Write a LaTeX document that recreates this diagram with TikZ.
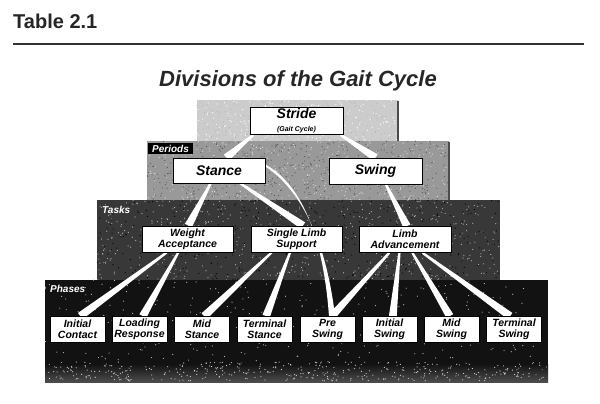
\documentclass[tikz,border=0pt]{standalone}
\usepackage{fontspec}
\setmainfont{Liberation Sans}
\usetikzlibrary{calc}
\pgfdeclarelayer{back}
\pgfdeclarelayer{mid}
\pgfsetlayers{back,mid,main}
\definecolor{strideg}{gray}{0.80}
\definecolor{periodg}{gray}{0.60}
\definecolor{taskg}{gray}{0.22}
\definecolor{phaseg}{gray}{0.07}
% tapered white connector from parent (bottom, fraction) to child (top, fraction)
\newcommand\taper[4]{%
  \coordinate (tp) at ($(#1.south west)!#2!(#1.south east)$);
  \coordinate (tq) at ($(#3.north west)!#4!(#3.north east)$);
  \fill[wedgefill] ($(tp)!1.1pt!90:(tq)$) -- ($(tp)!1.1pt!-90:(tq)$)
     -- ($(tq)!3.9pt!90:(tp)$) -- ($(tq)!3.9pt!-90:(tp)$) -- cycle;}
% scanned-print grain: #1..#4 region, #5 count, #6 colour
\newcommand\grain[6]{%
  \foreach \gi in {1,...,#5}{%
    \pgfmathsetmacro\gx{#1+rnd*(#3-#1)}%
    \pgfmathsetmacro\gy{#2+rnd*(#4-#2)}%
    \fill[#6] (\gx,\gy) circle[radius=0.6pt];}}
\begin{document}
\begin{tikzpicture}[x=1pt,y=-1pt,
  wedgefill/.style={fill=white},
  box/.style={draw=black,line width=0.8pt,fill=white,inner sep=1pt,align=center,
    font=\fontsize{10.5}{11}\selectfont\bfseries\itshape},
  bigbox/.style={box,font=\fontsize{14}{15}\selectfont\bfseries\itshape},
  taskbox/.style={box,minimum width=91pt,minimum height=26pt},
  phasebox/.style={box,minimum width=55pt,minimum height=26pt},
  tierlabel/.style={text=white,inner sep=1pt,font=\fontsize{10}{11}\selectfont\bfseries\itshape}]
\useasboundingbox (0,0) rectangle (600,404);
\pgfmathsetseed{7}

% stepped background blocks
\begin{pgfonlayer}{back}
  \fill[white] (0,0) rectangle (600,404);
  \fill[strideg] (197,100) rectangle (398,142);
  \grain{197}{100}{397}{141}{260}{gray!55}
  \grain{197}{100}{397}{141}{200}{white}
  \draw[line width=1.2pt,black!70] (398,101) -- (398,142);
  \fill[periodg] (147,141) rectangle (449,201);
  \grain{147}{141}{448}{200}{500}{black!65}
  \grain{147}{141}{448}{200}{400}{white!85!black}
  \draw[line width=1.2pt,black!70] (449,142) -- (449,201);
  \fill[taskg] (97,200) rectangle (500,281);
  \grain{97}{200}{499}{280}{600}{gray!60}
  \grain{97}{200}{499}{280}{400}{black}
  \fill[phaseg] (45,280) rectangle (548,382);
  \shade[top color=phaseg,bottom color=black!70] (45,364) rectangle (548,382);
  \grain{45}{280}{547}{381}{350}{gray!55}
  \grain{45}{362}{547}{381}{350}{gray!35}
  \fill[black] (148,143) rectangle (193,154);
\end{pgfonlayer}

% heading
\node[anchor=base west,inner sep=0pt,text=black!85,font=\fontsize{20}{24}\selectfont\bfseries] (tbl) at (13,29) {Table 2.1};
\draw[line width=1.6pt,black!80] (13,44) -- (584,44);
\node[anchor=base,inner sep=0pt,text=black!85,font=\fontsize{22}{26}\selectfont\bfseries\itshape] (head) at (298,87) {Divisions of the Gait Cycle};

\node[tierlabel] (lper) at (170.5,148.5) {Periods};
\node[tierlabel,anchor=west] (ltask) at (101,210) {Tasks};
\node[tierlabel,anchor=west] (lphase) at (49,289) {Phases};

% boxes
\node[bigbox,minimum width=93pt,minimum height=27pt] (stride) at (296.5,121)
  {Stride\\[-2pt]{\fontsize{7}{8}\selectfont (Gait Cycle)}};
\node[bigbox,minimum width=92pt,minimum height=25pt] (stance) at (219,170.5) {Stance};
\node[bigbox,minimum width=93pt,minimum height=26pt] (swing) at (375.5,171) {Swing};

\node[taskbox] (wa)  at (187.5,239) {Weight\\Acceptance};
\node[taskbox] (sls) at (296.5,239) {Single Limb\\Support};
\node[taskbox,minimum width=92pt] (la) at (405,239.5) {Limb\\Advancement};

\node[phasebox] (ic)  at (77.5,329.5)  {Initial\\Contact};
\node[phasebox] (lr)  at (139.5,329.5) {Loading\\Response};
\node[phasebox] (ms)  at (202,329.5)   {Mid\\Stance};
\node[phasebox] (tst) at (264.5,329.5) {Terminal\\Stance};
\node[phasebox] (ps)  at (327.5,329.5) {Pre\\Swing};
\node[phasebox] (isw) at (389.5,329.5) {Initial\\Swing};
\node[phasebox] (msw) at (451.5,329.5) {Mid\\Swing};
\node[phasebox] (tsw) at (514,329.5)   {Terminal\\Swing};

% connectors
\begin{pgfonlayer}{mid}
  \taper{stride}{0.04}{stance}{0.58}
  \taper{stride}{0.97}{swing}{0.50}
  \taper{stance}{0.41}{wa}{0.51}
  \taper{stance}{0.73}{sls}{0.57}
  \taper{swing}{0.61}{la}{0.52}
  \taper{wa}{0.275}{ic}{0.55}
  \taper{wa}{0.40}{lr}{0.56}
  \taper{sls}{0.23}{ms}{0.54}
  \taper{sls}{0.43}{tst}{0.53}
  \taper{la}{0.33}{ps}{0.58}
  \taper{la}{0.44}{isw}{0.56}
  \taper{la}{0.58}{msw}{0.47}
  \taper{la}{0.69}{tsw}{0.43}
  \coordinate (cs) at ([yshift=5pt]stance.east);
  \coordinate (ce) at ($(ps.north west)!0.58!(ps.north east)$);
  \fill[wedgefill] ([yshift=1pt]cs) .. controls +(40,22) and +(-5,-70) .. ([xshift=-3pt]ce)
     -- ([xshift=3pt]ce) .. controls +(-8,-70) and +(38,25) .. ([yshift=-1pt]cs) -- cycle;
\end{pgfonlayer}
\end{tikzpicture}
\end{document}
